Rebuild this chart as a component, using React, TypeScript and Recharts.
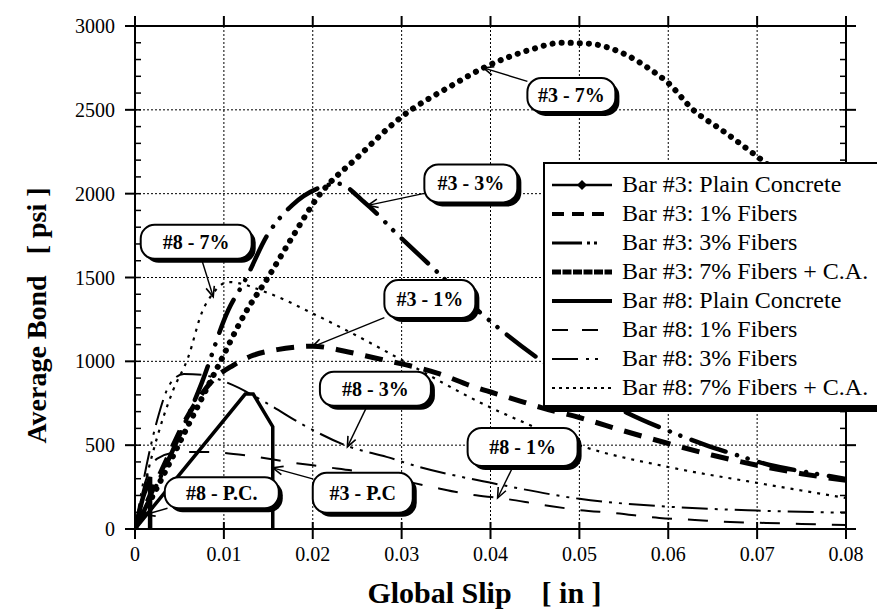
import { LineChart, Line, XAxis, YAxis, CartesianGrid, Legend, ReferenceDot, Label } from 'recharts';

// axis ticks
const xTicks = [0, 0.01, 0.02, 0.03, 0.04, 0.05, 0.06, 0.07, 0.08];
const yTicks = [0, 500, 1000, 1500, 2000, 2500, 3000];
const yMinorTicks = [
  0, 100, 200, 300, 400, 500, 600, 700, 800, 900, 1000, 1100, 1200, 1300, 1400, 1500,
  1600, 1700, 1800, 1900, 2000, 2100, 2200, 2300, 2400, 2500, 2600, 2700, 2800, 2900, 3000,
];

// Bar #3: Plain Concrete
const slip3PC = [0, 0.0124, 0.0133, 0.0155, 0.0155];
const bond3PC = [0, 805, 805, 610, 0];
// Bar #3: 1% Fibers
const slip3F1 = [0, 0.003, 0.006, 0.009, 0.011, 0.013, 0.016, 0.02, 0.024, 0.027, 0.03, 0.034, 0.038, 0.042, 0.046, 0.05, 0.055, 0.06, 0.065, 0.07, 0.075, 0.08];
const bond3F1 = [0, 350, 680, 900, 975, 1030, 1070, 1090, 1056, 1020, 985, 930, 850, 785, 720, 665, 585, 510, 440, 380, 330, 290];
// Bar #3: 3% Fibers
const slip3F3 = [0, 0.004, 0.0075, 0.0105, 0.0124, 0.0149, 0.0177, 0.0205, 0.0228, 0.0259, 0.0296, 0.034, 0.038, 0.0416, 0.0456, 0.05, 0.0554, 0.0598, 0.064, 0.0677, 0.0714, 0.0755, 0.08];
const bond3F3 = [0, 440, 870, 1306, 1485, 1753, 1932, 2030, 2060, 1944, 1753, 1533, 1330, 1169, 1008, 850, 692, 590, 505, 441, 382, 340, 298];
// Bar #3: 7% Fibers + C.A.
const slip3F7 = [0, 0.003, 0.006, 0.0093, 0.0124, 0.015, 0.0177, 0.0205, 0.0253, 0.0298, 0.0358, 0.0392, 0.0444, 0.048, 0.051, 0.0553, 0.058, 0.06, 0.0628, 0.066, 0.0698, 0.072];
const bond3F7 = [0, 300, 620, 966, 1288, 1503, 1741, 1975, 2230, 2450, 2650, 2750, 2857, 2900, 2895, 2827, 2740, 2660, 2500, 2380, 2230, 2140];
// Bar #8: Plain Concrete
const slip8PC = [0, 0.0009, 0.0017, 0.0017];
const bond8PC = [0, 190, 310, 0];
// Bar #8: 1% Fibers
const slip8F1 = [0, 0.001, 0.0025, 0.005, 0.0083, 0.013, 0.0172, 0.0214, 0.0255, 0.03, 0.0335, 0.038, 0.041, 0.046, 0.05, 0.054, 0.059, 0.063, 0.067, 0.071, 0.075, 0.08];
const bond8F1 = [0, 250, 420, 460, 459, 435, 400, 370, 340, 290, 250, 203, 185, 143, 113, 95, 66, 54, 42, 36, 30, 24];
// Bar #8: 3% Fibers
const slip8F3 = [0, 0.001, 0.0025, 0.004, 0.0055, 0.0075, 0.0105, 0.015, 0.0188, 0.0239, 0.0283, 0.032, 0.0377, 0.041, 0.05, 0.06, 0.07, 0.08];
const bond8F3 = [0, 300, 650, 870, 925, 920, 870, 745, 625, 495, 430, 370, 300, 265, 180, 133, 110, 97];
// Bar #8: 7% Fibers + C.A.
const slip8F7 = [0, 0.0017, 0.0032, 0.0043, 0.006, 0.0075, 0.0088, 0.0105, 0.015, 0.0199, 0.0248, 0.03, 0.034, 0.039, 0.044, 0.05, 0.06, 0.07, 0.08];
const bond8F7 = [0, 394, 668, 829, 1026, 1288, 1407, 1473, 1407, 1288, 1157, 1008, 890, 750, 630, 500, 370, 275, 185];

// callouts: text and the point each arrow touches
const calloutText = ['#3 - 7%', '#3 - 3%', '#8 - 7%', '#3 - 1%', '#8 - 3%', '#8 - 1%', '#3 - P.C', '#8 - P.C.'];
const calloutSlip = [0.0392, 0.0262, 0.0088, 0.0199, 0.0239, 0.0408, 0.0155, 0.0011];
const calloutBond = [2750, 1930, 1385, 1085, 490, 185, 365, 85];

const toPoints = (xs: number[], ys: number[]) => xs.map((x, i) => ({ x, y: ys[i] }));

const series = [
  { name: 'Bar #3: Plain Concrete', data: toPoints(slip3PC, bond3PC), width: 3.5, dash: undefined, cap: 'butt', curve: 'linear', legendWidth: 2.5, legendDash: undefined, diamond: true },
  { name: 'Bar #3: 1% Fibers', data: toPoints(slip3F1, bond3F1), width: 5, dash: '18 12', cap: 'butt', curve: 'monotone', legendWidth: 4, legendDash: '12 8' },
  { name: 'Bar #3: 3% Fibers', data: toPoints(slip3F3, bond3F3), width: 4.5, dash: '36 12 0.1 11 0.1 12', cap: 'round', curve: 'monotone', legendWidth: 3, legendDash: '30 5 3 4 3 30' },
  { name: 'Bar #3: 7% Fibers + C.A.', data: toPoints(slip3F7, bond3F7), width: 6, dash: '0.1 9', cap: 'round', curve: 'monotone', legendWidth: 5, legendDash: '9 1.5' },
  { name: 'Bar #8: Plain Concrete', data: toPoints(slip8PC, bond8PC), width: 4.5, dash: undefined, cap: 'butt', curve: 'linear', legendWidth: 4, legendDash: undefined },
  { name: 'Bar #8: 1% Fibers', data: toPoints(slip8F1, bond8F1), width: 2, dash: '20 16', cap: 'butt', curve: 'monotone', legendWidth: 2, legendDash: '16 14' },
  { name: 'Bar #8: 3% Fibers', data: toPoints(slip8F3, bond8F3), width: 2, dash: '26 7 3 7 3 7', cap: 'butt', curve: 'monotone', legendWidth: 2, legendDash: '26 8 3 6 3 40' },
  { name: 'Bar #8: 7% Fibers + C.A.', data: toPoints(slip8F7, bond8F7), width: 2.2, dash: '3 6', cap: 'butt', curve: 'monotone', legendWidth: 2, legendDash: '3 4' },
];

// callout box placement relative to the arrow tip (px)
const calloutBox = [
  { dx: 88, dy: 27, w: 88, h: 34 },
  { dx: 103, dy: -22, w: 93, h: 38 },
  { dx: -17, dy: -55, w: 111, h: 34 },
  { dx: 118, dy: -48, w: 91, h: 38 },
  { dx: 28, dy: -58, w: 111, h: 34 },
  { dx: 25, dy: -51, w: 110, h: 38 },
  { dx: 90, dy: 25, w: 100, h: 40 },
  { dx: 77, dy: -22, w: 114, h: 31 },
];

const serif = '"Liberation Serif", "Times New Roman", serif';

const Callout = ({ cx, cy, text, dx, dy, w, h }: any) => {
  const bx = cx + dx;
  const by = cy + dy;
  const vx = cx - bx;
  const vy = cy - by;
  const sx0 = vx === 0 ? Infinity : Math.abs(w / 2 / vx);
  const sy0 = vy === 0 ? Infinity : Math.abs(h / 2 / vy);
  const s = Math.min(sx0, sy0);
  const sx = bx + vx * s;
  const sy = by + vy * s;
  const ang = Math.atan2(cy - sy, cx - sx);
  const a = 11;
  const sp = 0.4;
  const p1 = `${cx - a * Math.cos(ang - sp)},${cy - a * Math.sin(ang - sp)}`;
  const p2 = `${cx - a * Math.cos(ang + sp)},${cy - a * Math.sin(ang + sp)}`;
  return (
    <g>
      <line x1={sx} y1={sy} x2={cx} y2={cy} stroke="#000" strokeWidth={1.4} />
      <polyline points={`${p1} ${cx},${cy} ${p2}`} fill="none" stroke="#000" strokeWidth={1.6} />
      <rect x={bx - w / 2 + 4} y={by - h / 2 + 4} width={w} height={h} rx={14} fill="#000" />
      <rect x={bx - w / 2} y={by - h / 2} width={w} height={h} rx={14} fill="#fff" stroke="#000" strokeWidth={2} />
      <text x={bx} y={by + 7} textAnchor="middle" fontFamily={serif} fontWeight="bold" fontSize={20} style={{ whiteSpace: 'pre' }}>
        {text}
      </text>
    </g>
  );
};

const LegendBox = () => (
  <div
    style={{
      background: '#fff',
      border: '2px solid #000',
      boxShadow: '5px 5px 0 #000',
      padding: '6px 0 3px 5px',
      width: 360,
      fontFamily: serif,
      fontSize: 24,
      color: '#000',
    }}
  >
    {series.map((s) => (
      <div key={s.name} style={{ height: 29, display: 'flex', alignItems: 'center', whiteSpace: 'nowrap' }}>
        <svg width={70} height={20} style={{ flex: 'none' }}>
          <line x1={2} y1={10} x2={62} y2={10} stroke="#000" strokeWidth={s.legendWidth} strokeDasharray={s.legendDash} />
          {s.diamond && <polygon points="32,5 37,10 32,15 27,10" fill="#000" />}
        </svg>
        <span style={{ marginLeft: 2 }}>{s.name}</span>
      </div>
    ))}
  </div>
);

const XTitle = ({ viewBox }: any) => (
  <text x={viewBox.x + viewBox.width / 2 - 6} y={viewBox.y + viewBox.height - 8} textAnchor="middle" fontFamily={serif} fontWeight="bold" fontSize={30} style={{ whiteSpace: 'pre' }}>
    {'Global Slip    [ in ]'}
  </text>
);

const YTitle = ({ viewBox }: any) => {
  const x = viewBox.x + 38;
  const y = viewBox.y + viewBox.height / 2 + 38;
  return (
    <text x={x} y={y} transform={`rotate(-90, ${x}, ${y})`} textAnchor="middle" fontFamily={serif} fontWeight="bold" fontSize={28} style={{ whiteSpace: 'pre' }}>
      {'Average Bond   [ psi ]'}
    </text>
  );
};

// tick marks without labels
const NoLabel = () => <g />;

const tickStyle = { fontFamily: serif, fontSize: 20, fill: '#000' };
const axisStroke = { stroke: '#000', strokeWidth: 2 };
const minorStroke = { stroke: '#000', strokeWidth: 1.5 };

// chart-level rows so the frame axes get a domain
const frameRows = xTicks.map((x) => ({ x }));

export default function App() {
  return (
    <div style={{ width: 877, height: 603, overflow: 'hidden', position: 'relative' }}>
      <LineChart width={877} height={603} data={frameRows} margin={{ top: 0, right: 0, bottom: 0, left: 0 }}>
        <CartesianGrid stroke="#000" strokeWidth={1} strokeDasharray="2 2" />
        <XAxis
          dataKey="x"
          type="number"
          domain={[0, 0.08]}
          ticks={xTicks}
          interval={0}
          allowDataOverflow
          height={82}
          tickSize={10}
          tickMargin={8}
          tick={tickStyle}
          tickFormatter={(v: number) => (v === 0 ? '0' : v.toFixed(2))}
          axisLine={axisStroke}
          tickLine={axisStroke}
        >
          <Label content={(p: any) => <XTitle viewBox={p.viewBox} />} />
        </XAxis>
        <XAxis xAxisId="binner" dataKey="x" type="number" domain={[0, 0.08]} ticks={xTicks} interval={0} allowDataOverflow mirror tick={NoLabel} tickSize={7} axisLine={false} tickLine={axisStroke} />
        <XAxis xAxisId="top" dataKey="x" orientation="top" type="number" domain={[0, 0.08]} ticks={xTicks} interval={0} allowDataOverflow height={18} tick={NoLabel} tickSize={10} axisLine={axisStroke} tickLine={axisStroke} />
        <YAxis
          type="number"
          domain={[0, 3000]}
          ticks={yTicks}
          interval={0}
          allowDataOverflow
          width={127}
          tickSize={10}
          tickMargin={10}
          tick={tickStyle}
          axisLine={axisStroke}
          tickLine={axisStroke}
        >
          <Label content={(p: any) => <YTitle viewBox={p.viewBox} />} />
        </YAxis>
        <YAxis yAxisId="lminor" type="number" domain={[0, 3000]} ticks={yMinorTicks} interval={0} allowDataOverflow mirror tick={NoLabel} tickSize={6} axisLine={false} tickLine={minorStroke} />
        <YAxis yAxisId="right" orientation="right" type="number" domain={[0, 3000]} ticks={yTicks} interval={0} allowDataOverflow width={39} tick={NoLabel} tickSize={10} axisLine={axisStroke} tickLine={axisStroke} />
        <YAxis yAxisId="rminor" orientation="right" type="number" domain={[0, 3000]} ticks={yMinorTicks} interval={0} allowDataOverflow mirror tick={NoLabel} tickSize={6} axisLine={false} tickLine={minorStroke} />
        {series.map((s) => (
          <Line
            key={s.name}
            name={s.name}
            data={s.data}
            dataKey="y"
            type={s.curve as any}
            stroke="#000"
            strokeWidth={s.width}
            strokeDasharray={s.dash}
            strokeLinecap={s.cap as any}
            dot={false}
            activeDot={false}
            isAnimationActive={false}
          />
        ))}
        {calloutText.map((t, i) => (
          <ReferenceDot
            key={t}
            x={calloutSlip[i]}
            y={calloutBond[i]}
            r={0}
            ifOverflow="visible"
            shape={(p: any) => <Callout cx={p.cx} cy={p.cy} text={t} {...calloutBox[i]} />}
          />
        ))}
        <Legend
          layout="horizontal"
          verticalAlign="middle"
          align="center"
          content={() => <LegendBox />}
          wrapperStyle={{ position: 'absolute', left: 535, top: 154, width: 370 }}
        />
      </LineChart>
    </div>
  );
}
